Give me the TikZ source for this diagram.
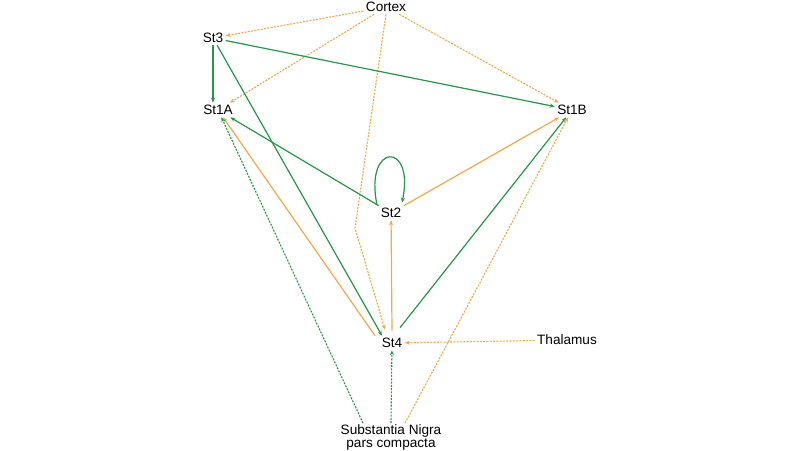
\documentclass[tikz,border=0pt]{standalone}
\usepackage{fontspec}
\setmainfont{Liberation Sans}
\usetikzlibrary{arrows.meta}
\definecolor{pgreen}{RGB}{40,150,70}
\definecolor{porange}{RGB}{242,168,76}

\begin{document}
\begin{tikzpicture}[y=1pt, x=1pt, yscale=-1, inner sep=2.5pt, outer sep=0pt,
  font=\fontsize{13.6}{15}\selectfont,
  tip/.style={-{Stealth[length=5pt,width=4pt]}},
  gsolid/.style={tip,draw=pgreen,line width=1.2pt},
  osolid/.style={tip,draw=porange,line width=1.2pt},
  gdash/.style={tip,draw=pgreen,line width=1.1pt,dash pattern=on 2pt off 1.3pt},
  odash/.style={tip,draw=porange,line width=1.1pt,dash pattern=on 2pt off 1.3pt}]
  \useasboundingbox[fill=white] (0,0) rectangle (800,450);
  \node (cortex) at (386,7) {Cortex};
  \node (st3) at (213,38) {St3};
  \node (st1a) at (218,110) {St1A};
  \node (st1b) at (572,110) {St1B};
  \node (st2) at (391,213) {St2};
  \node (st4) at (392,343) {St4};
  \node (thal) at (567,340) {Thalamus};
  \node[align=center,inner sep=1pt] (snpc) at (391,437) {Substantia Nigra\\[-2pt]pars compacta};
  \coordinate (bend) at (355,228);
  % cortex inputs
  \path[odash] (cortex) -- (st3);
  \path[odash] (cortex) -- (st1a);
  \path[odash] (cortex.south) -- (bend) -- ([xshift=-7pt,yshift=-6pt]st4.north);
  \path[odash] (cortex) -- (st1b);
  % St3
  \path[gsolid] (st3) -- (st3 |- st1a.north);
  \path[gsolid] (st3) -- (st1b);
  \path[gsolid] (st3) -- ([xshift=-10pt]st4.north);
  % St2
  \path[gsolid] (st2) -- (st1a);
  \path[osolid] (st2) -- (st1b);
  \path[gsolid] ([xshift=-14pt,yshift=-1pt]st2.north) .. controls +(-13,-62) and +(13,-62)
    .. ([xshift=11pt,yshift=-3pt]st2.north);
  % St4
  \path[osolid] ([yshift=-5pt]st4.north) -- (st2);
  \path[osolid] ([xshift=-17pt]st4.north) -- (st1a);
  \path[gsolid] ([xshift=8pt,yshift=-8pt]st4.north) -- (st1b);
  \path[odash] (thal) -- (st4);
  % substantia nigra
  \path[gdash] (snpc.north) -- (st4);
  \path[gdash] ([xshift=-28pt]snpc.north) -- (st1a);
  \path[odash] ([xshift=14pt]snpc.north) -- (st1b);
\end{tikzpicture}
\end{document}
